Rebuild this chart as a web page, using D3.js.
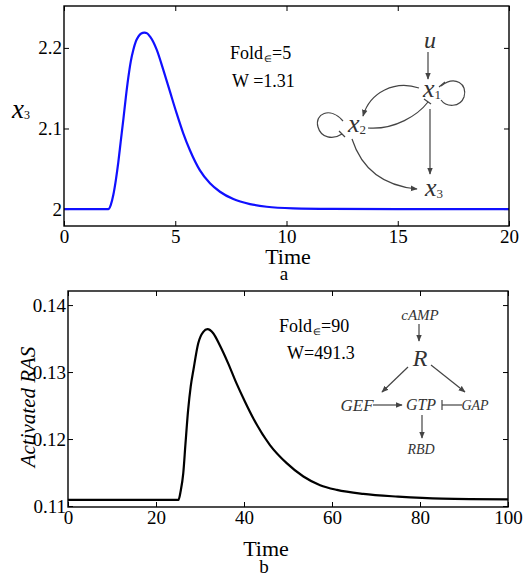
<!DOCTYPE html>
<html>
<head>
<meta charset="utf-8">
<script src="https://cdn.jsdelivr.net/npm/d3@7"></script>
<style>
  body { margin: 0; background: #fff; }
  svg text { font-family: "Liberation Serif", "Times New Roman", serif; fill: #000; }
  .net text { fill: #333; font-style: italic; }
</style>
</head>
<body>
<svg width="523" height="576"></svg>
<script>
// panel a: x3 response
const timeA = [0, 1.99, 2.1, 2.22, 2.33, 2.44, 2.55, 2.67, 2.78, 2.89, 3.0, 3.12, 3.23, 3.34, 3.47, 3.61, 3.74, 3.87, 4.02, 4.17, 4.46, 4.76, 5.06, 5.36, 5.66, 6.11, 6.56, 7.01, 7.61, 8.36, 9.11, 10.3, 12, 15, 20];
const x3 = [2.0, 2.0, 2.005, 2.018, 2.036, 2.058, 2.084, 2.112, 2.139, 2.163, 2.183, 2.198, 2.208, 2.214, 2.218, 2.219, 2.218, 2.214, 2.207, 2.1975, 2.173, 2.146, 2.119, 2.094, 2.073, 2.048, 2.032, 2.0215, 2.0124, 2.0062, 2.0029, 2.0009, 2.0002, 2.0, 2.0];
const xTicksA = [0, 5, 10, 15, 20];
const yTicksA = [2, 2.1, 2.2];

// panel b: activated RAS
const timeB = [0, 25.1, 25.6, 26.2, 26.7, 27.3, 27.9, 28.5, 29.6, 30.75, 31.7, 33.0, 34.5, 36.4, 38.3, 40.2, 42.1, 45.9, 49.7, 53.5, 57.3, 61.1, 67.1, 75, 85, 100];
const ras = [0.1109, 0.1109, 0.1122, 0.1149, 0.1193, 0.1243, 0.1279, 0.1303, 0.1343, 0.1360, 0.1364, 0.1358, 0.1340, 0.1313, 0.1283, 0.1256, 0.1231, 0.1191, 0.1164, 0.1144, 0.1131, 0.1124, 0.1118, 0.1114, 0.1111, 0.1110];
const xTicksB = [0, 20, 40, 60, 80, 100];
const yTicksB = [0.11, 0.12, 0.13, 0.14];

const svg = d3.select("svg");

const defs = svg.append("defs");
defs.append("marker")
    .attr("id", "arr")
    .attr("viewBox", "0 0 10 10")
    .attr("refX", 9).attr("refY", 5)
    .attr("markerWidth", 7).attr("markerHeight", 7)
    .attr("markerUnits", "userSpaceOnUse")
    .attr("orient", "auto")
    .append("path")
    .attr("d", "M0,1 L10,5 L0,9 Z")
    .attr("fill", "#444");

// draws a boxed MATLAB-style panel, returns the group
const panel = (box, xDomain, yDomain, xTicks, yTicks, times, values, color) => {
    const xScale = d3.scaleLinear().domain(xDomain).range([box.left, box.right]);
    const yScale = d3.scaleLinear().domain(yDomain).range([box.bottom, box.top]);
    const g = svg.append("g");
    const tk = 5;

    const xb = g.append("g").attr("transform", `translate(0,${box.bottom})`)
        .call(d3.axisBottom(xScale).tickValues(xTicks).tickSize(tk));
    xb.select(".domain").remove();
    xb.selectAll(".tick line").attr("y2", -tk).attr("stroke", "#000");
    xb.selectAll(".tick text").attr("font-size", 19).attr("y", 4).attr("dy", "0.71em")
        .style("font-family", "Liberation Serif");
    const xt = g.append("g").attr("transform", `translate(0,${box.top})`)
        .call(d3.axisTop(xScale).tickValues(xTicks).tickSize(tk).tickFormat(""));
    xt.select(".domain").remove();
    xt.selectAll(".tick line").attr("y2", tk).attr("stroke", "#000");

    const yl = g.append("g").attr("transform", `translate(${box.left},0)`)
        .call(d3.axisLeft(yScale).tickValues(yTicks).tickSize(tk).tickFormat(d => d));
    yl.select(".domain").remove();
    yl.selectAll(".tick line").attr("x2", tk).attr("stroke", "#000");
    yl.selectAll(".tick text").attr("font-size", 19).attr("x", -2).style("font-family", "Liberation Serif");
    const yr = g.append("g").attr("transform", `translate(${box.right},0)`)
        .call(d3.axisRight(yScale).tickValues(yTicks).tickSize(tk).tickFormat(""));
    yr.select(".domain").remove();
    yr.selectAll(".tick line").attr("x2", -tk).attr("stroke", "#000");

    const pts = times.map((t, i) => [t, values[i]]);
    g.append("path")
        .datum(pts)
        .attr("fill", "none")
        .attr("stroke", color)
        .attr("stroke-width", 2.2)
        .attr("d", d3.line().x(d => xScale(d[0])).y(d => yScale(d[1])).curve(d3.curveMonotoneX));

    g.append("rect")
        .attr("x", box.left).attr("y", box.top)
        .attr("width", box.right - box.left).attr("height", box.bottom - box.top)
        .attr("fill", "none").attr("stroke", "#000").attr("stroke-width", 1.4);
    return g;
};

// ---- panel a ----
const gA = panel({ left: 64, right: 509, top: 6, bottom: 226 }, [0, 20], [1.979, 2.252],
    xTicksA, yTicksA, timeA, x3, "#1010ff");

gA.append("text").attr("x", 288).attr("y", 264).attr("text-anchor", "middle").attr("font-size", 22).text("Time");
gA.append("text").attr("x", 284).attr("y", 280).attr("text-anchor", "middle").attr("font-size", 19).text("a");
const ylA = gA.append("text").attr("x", 12).attr("y", 118).attr("font-style", "italic");
ylA.append("tspan").attr("font-size", 27).text("x");
ylA.append("tspan").attr("font-size", 12).attr("font-style", "normal").attr("dy", 1).text("3");

const fA = gA.append("text").attr("x", 230).attr("y", 59).attr("font-size", 18);
fA.append("tspan").text("Fold");
fA.append("tspan").attr("font-size", 9).attr("dy", 3).attr("dx", 1).text("∈");
fA.append("tspan").attr("dy", -3).text("=5");
gA.append("text").attr("x", 232).attr("y", 87).attr("font-size", 18).text("W =1.31");

// network a
const netA = gA.append("g").attr("class", "net").attr("stroke", "#444").attr("fill", "none").attr("stroke-width", 1.2);
const node = (g, x, y, main, sub, size) => {
    const t = g.append("text").attr("x", x).attr("y", y).attr("text-anchor", "middle")
        .attr("font-size", size).attr("stroke", "none");
    t.append("tspan").text(main);
    if (sub) t.append("tspan").attr("font-size", size * 0.5).attr("font-style", "normal").attr("dy", 2).text(sub);
};
node(netA, 430, 48, "u", null, 24);
node(netA, 432, 97, "x", "1", 26);
node(netA, 357, 132, "x", "2", 26);
node(netA, 434, 196, "x", "3", 26);
netA.append("path").attr("d", "M428,52 L428,79").attr("marker-end", "url(#arr)");
netA.append("path").attr("d", "M430,109 L430,174").attr("marker-end", "url(#arr)");
netA.append("path").attr("d", "M419,88 C395,80 370,92 363,116").attr("marker-end", "url(#arr)");
netA.append("path").attr("d", "M368,128 C395,130 418,115 428,102");
netA.append("path").attr("d", "M424,99 L431,104");
netA.append("path").attr("d", "M352,139 C362,170 385,186 417,189").attr("marker-end", "url(#arr)");
// self loops with inhibition bars
netA.append("path").attr("d", "M441,86 C455,75 468,84 464,97 C460,108 446,107 441,100");
netA.append("path").attr("d", "M439,87 L445,82");
netA.append("path").attr("d", "M343,121 C330,106 314,114 318,127 C321,138 333,140 342,134");
netA.append("path").attr("d", "M339,131 L345,137");

// ---- panel b ----
const gB = panel({ left: 68, right: 508, top: 291, bottom: 507 }, [0, 100], [0.10985, 0.1421],
    xTicksB, yTicksB, timeB, ras, "#000");

gB.append("text").attr("x", 266).attr("y", 556).attr("text-anchor", "middle").attr("font-size", 22).text("Time");
gB.append("text").attr("x", 264).attr("y", 573).attr("text-anchor", "middle").attr("font-size", 19).text("b");
gB.append("text").attr("transform", "translate(35,407) rotate(-90)").attr("text-anchor", "middle")
    .attr("font-size", 21).attr("font-style", "italic").text("Activated RAS");

const fB = gB.append("text").attr("x", 279).attr("y", 332).attr("font-size", 18);
fB.append("tspan").text("Fold");
fB.append("tspan").attr("font-size", 9).attr("dy", 3).attr("dx", 1).text("∈");
fB.append("tspan").attr("dy", -3).text("=90");
gB.append("text").attr("x", 287).attr("y", 359).attr("font-size", 18).text("W=491.3");

// network b
const netB = gB.append("g").attr("class", "net").attr("stroke", "#444").attr("fill", "none").attr("stroke-width", 1.2);
node(netB, 420, 320, "cAMP", null, 15);
node(netB, 420, 366, "R", null, 24);
node(netB, 357, 411, "GEF", null, 17);
node(netB, 421, 410, "GTP", null, 16);
node(netB, 475, 410, "GAP", null, 14);
node(netB, 421, 454, "RBD", null, 14);
netB.append("path").attr("d", "M419,324 L419,341").attr("marker-end", "url(#arr)");
netB.append("path").attr("d", "M408,367 L382,392").attr("marker-end", "url(#arr)");
netB.append("path").attr("d", "M431,365 L465,392").attr("marker-end", "url(#arr)");
netB.append("path").attr("d", "M373,405 L402,405").attr("marker-end", "url(#arr)");
netB.append("path").attr("d", "M442,405 L462,405");
netB.append("path").attr("d", "M442,400 L442,410");
netB.append("path").attr("d", "M422,415 L422,438").attr("marker-end", "url(#arr)");
</script>
</body>
</html>
